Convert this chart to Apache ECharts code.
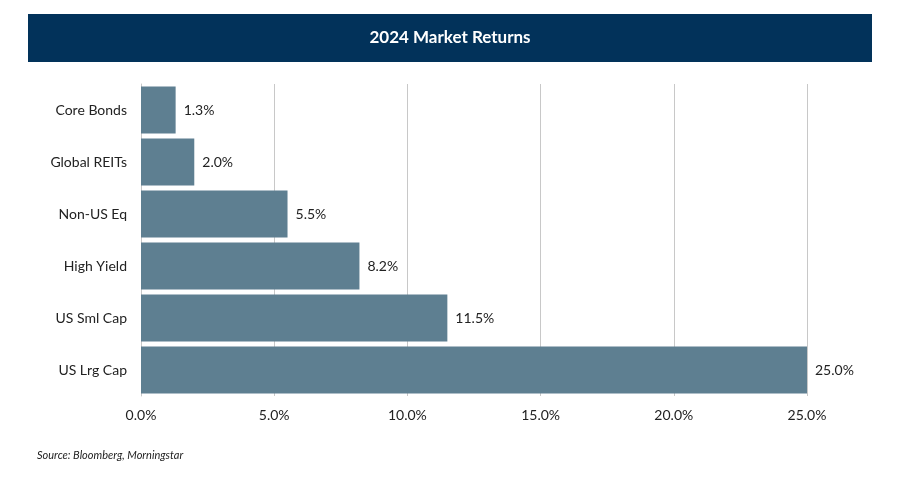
<!DOCTYPE html>
<html><head><meta charset="utf-8">
<script src="https://cdn.jsdelivr.net/npm/echarts@6/dist/echarts.min.js"></script>
<style>body{margin:0;background:#fff}#c{width:900px;height:480px}</style>
</head><body><div id="c"></div>
<script>
const categories = ['Core Bonds', 'Global REITs', 'Non-US Eq', 'High Yield', 'US Sml Cap', 'US Lrg Cap'];
const returns = [1.3, 2.0, 5.5, 8.2, 11.5, 25.0];
const font = 'Lato, "DejaVu Sans", sans-serif';

const chart = echarts.init(document.getElementById('c'));
chart.setOption({
    animation: false,
    graphic: [
        { type: 'rect', shape: { x: 28, y: 14, width: 844, height: 48 }, style: { fill: '#02325a' } },
        { type: 'text', x: 450, y: 38, style: { text: '2024 Market Returns', fill: '#fff', font: 'bold 17px ' + font, textAlign: 'center', textVerticalAlign: 'middle' } },
        { type: 'text', x: 37, y: 455, style: { text: 'Source: Bloomberg, Morningstar', fill: '#222', font: 'italic 11px ' + font, textVerticalAlign: 'middle' } }
    ],
    grid: { left: 141, right: 93, top: 84, bottom: 84 },
    xAxis: {
        type: 'value', min: 0, max: 25, interval: 5,
        axisLabel: { formatter: v => v.toFixed(1) + '%', color: '#222', fontSize: 14, fontFamily: font, margin: 12 },
        splitLine: { lineStyle: { color: '#c8c8c8' } },
        axisLine: { show: false }, axisTick: { show: false }
    },
    yAxis: {
        type: 'category', data: categories, inverse: true,
        axisLabel: { color: '#222', fontSize: 14, fontFamily: font, margin: 14 },
        axisLine: { lineStyle: { color: '#c8c8c8' } }, axisTick: { show: false }
    },
    series: [{
        type: 'bar', data: returns, barCategoryGap: '10%',
        itemStyle: { color: '#5e7f91' },
        label: { show: true, position: 'right', formatter: p => p.value.toFixed(1) + '%', color: '#222', fontSize: 14, fontFamily: font, distance: 8 }
    }]
});
</script></body></html>
